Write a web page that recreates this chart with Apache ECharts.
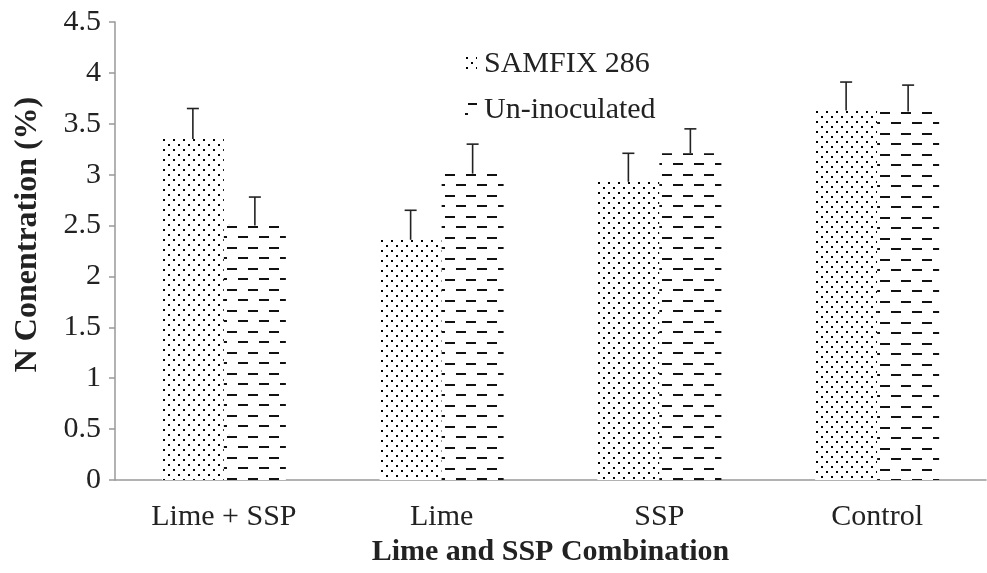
<!DOCTYPE html>
<html>
<head>
<meta charset="utf-8">
<script src="https://cdn.jsdelivr.net/npm/echarts@6/dist/echarts.min.js"></script>
<style>
    html, body { margin: 0; padding: 0; background: #fff; }
    #chart { width: 987px; height: 573px; }
</style>
</head>
<body>
<div id="chart"></div>
<script>
// data
const categories = ['Lime + SSP', 'Lime', 'SSP', 'Control'];
const seriesNames = ['SAMFIX 286', 'Un-inoculated'];
const samfix = [3.35, 2.36, 2.93, 3.63];
const samfixErr = [0.30, 0.29, 0.28, 0.28];
const uninoc = [2.50, 3.01, 3.21, 3.62];
const uninocErr = [0.28, 0.29, 0.24, 0.26];

const FONT = '"Liberation Serif", "Times New Roman", serif';
const BAR_W = 62;

// dotted fill for SAMFIX
function dotPattern() {
    let c = document.createElement('canvas');
    c.width = 10; c.height = 10;
    let ctx = c.getContext('2d');
    ctx.fillStyle = '#fff';
    ctx.fillRect(0, 0, 10, 10);
    ctx.fillStyle = '#000';
    ctx.fillRect(1, 0, 2, 2);
    ctx.fillRect(6, 5, 2, 2);
    return c;
}

// dashed (brick) fill for Un-inoculated
function dashPattern() {
    let c = document.createElement('canvas');
    c.width = 21; c.height = 21;
    let ctx = c.getContext('2d');
    ctx.fillStyle = '#fff';
    ctx.fillRect(0, 0, 21, 21);
    ctx.fillStyle = '#111';
    ctx.fillRect(3, 0, 10, 2);
    ctx.fillRect(14, 10, 7, 2);
    ctx.fillRect(0, 10, 3, 2);
    return c;
}

const dotImg = dotPattern();
const dashImg = dashPattern();

function errorSeries(values, errs, offset) {
    return {
        type: 'custom',
        silent: true,
        z: 5,
        data: values.map((v, i) => [i, v, v + errs[i]]),
        renderItem: function (params, api) {
            let lo = api.coord([api.value(0), api.value(1)]);
            let hi = api.coord([api.value(0), api.value(2)]);
            let x = lo[0] + offset;
            let style = { stroke: '#222', lineWidth: 1.6 };
            return {
                type: 'group',
                children: [
                    { type: 'line', shape: { x1: x, y1: lo[1], x2: x, y2: hi[1] }, style: style },
                    { type: 'line', shape: { x1: x - 6, y1: hi[1], x2: x + 6, y2: hi[1] }, style: style }
                ]
            };
        }
    };
}

let myChart = echarts.init(document.getElementById('chart'));
let option = {
    animation: false,
    backgroundColor: '#fff',
    grid: { left: 115, right: 1, top: 22, bottom: 93 },
    legend: {
        orient: 'vertical',
        left: 460,
        top: 44,
        itemWidth: 12,
        itemHeight: 14,
        itemGap: 16,
        selectedMode: false,
        textStyle: { fontFamily: FONT, fontSize: 30, lineHeight: 30, color: '#222', padding: [0, 0, 0, 2] },
        data: [
            { name: seriesNames[0], icon: 'rect' },
            { name: seriesNames[1], icon: 'rect' }
        ]
    },
    xAxis: {
        type: 'category',
        data: categories,
        name: 'Lime and SSP Combination',
        nameLocation: 'middle',
        nameGap: 50,
        nameTextStyle: { fontFamily: FONT, fontSize: 30, fontWeight: 'bold', color: '#222' },
        axisLine: { lineStyle: { color: '#999', width: 1.5 } },
        axisTick: { length: 8, lineStyle: { color: '#999', width: 1.5 } },
        axisLabel: { fontFamily: FONT, fontSize: 30, color: '#222', margin: 22 }
    },
    yAxis: {
        type: 'value',
        min: 0,
        max: 4.5,
        interval: 0.5,
        name: 'N Conentration (%)',
        nameLocation: 'middle',
        nameGap: 71,
        nameTextStyle: { fontFamily: FONT, fontSize: 32, fontWeight: 'bold', color: '#222', padding: [0, 0, 0, 33] },
        axisLine: { show: true, lineStyle: { color: '#999', width: 1.5 } },
        axisTick: { show: true, length: 6, lineStyle: { color: '#999', width: 1.5 } },
        axisLabel: { fontFamily: FONT, fontSize: 30, color: '#222', margin: 14 },
        splitLine: { show: false }
    },
    series: [
        {
            name: seriesNames[0],
            type: 'bar',
            barWidth: BAR_W,
            barGap: '0%',
            itemStyle: { color: { image: dotImg, repeat: 'repeat' } },
            data: samfix
        },
        {
            name: seriesNames[1],
            type: 'bar',
            barWidth: BAR_W,
            barGap: '0%',
            itemStyle: { color: { image: dashImg, repeat: 'repeat' } },
            data: uninoc
        },
        errorSeries(samfix, samfixErr, -BAR_W / 2),
        errorSeries(uninoc, uninocErr, BAR_W / 2)
    ]
};
myChart.setOption(option);

// anchor each bar's fill pattern to its own top-left corner
function anchored(values, img, side) {
    return values.map((v, i) => {
        let p = myChart.convertToPixel({ gridIndex: 0 }, [i, v]);
        let left = side < 0 ? p[0] - BAR_W : p[0];
        return {
            value: v,
            itemStyle: { color: { image: img, repeat: 'repeat', x: Math.round(left), y: Math.round(p[1]) } }
        };
    });
}
myChart.setOption({
    series: [
        { data: anchored(samfix, dotImg, -1) },
        { data: anchored(uninoc, dashImg, 1) }
    ]
});
</script>
</body>
</html>
